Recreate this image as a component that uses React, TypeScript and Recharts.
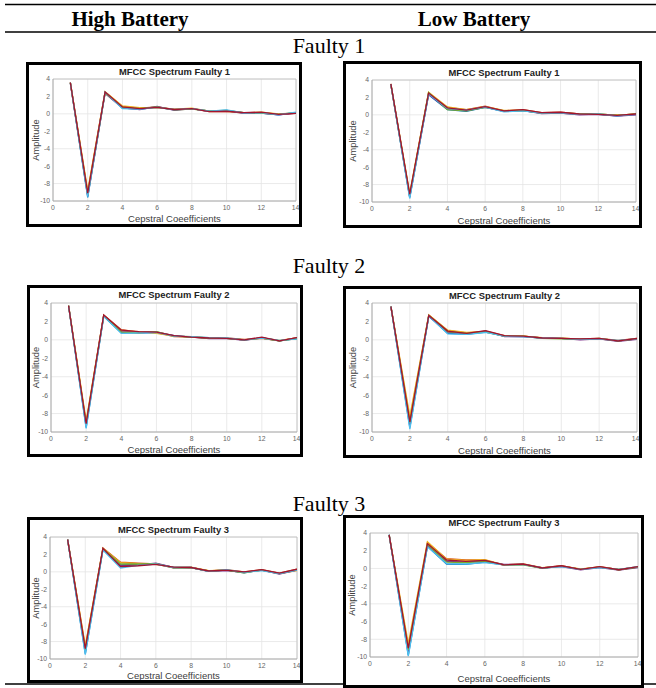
import React from 'react';
import { LineChart, Line, XAxis, YAxis, CartesianGrid, ReferenceLine, Label } from 'recharts';

const COEFFS = [1, 2, 3, 4, 5, 6, 7, 8, 9, 10, 11, 12, 13, 14];
const X_TICKS = [0, 2, 4, 6, 8, 10, 12, 14];
const Y_TICKS = [-10, -8, -6, -4, -2, 0, 2, 4];
const SERIES_COLORS = ['#0072BD', '#D95319', '#EDB120', '#7E2F8E', '#77AC30', '#4DBEEE', '#A2142F'];
const COLUMN_HEADERS = ['High Battery', 'Low Battery'];
const ROW_LABELS = ['Faulty 1', 'Faulty 2', 'Faulty 3'];
const PLOT_TITLES = ['MFCC Spectrum Faulty 1', 'MFCC Spectrum Faulty 2', 'MFCC Spectrum Faulty 3'];
const X_LABEL = 'Cepstral Coeefficients';
const Y_LABEL = 'Amplitude';

const highFaulty1 = [
  [3.55, -9.6, 2.45, 0.65, 0.55, 0.75, 0.45, 0.6, 0.3, 0.4, 0.1, 0.1, -0.1, 0.15],
  [3.6, -9.0, 2.5, 0.85, 0.65, 0.8, 0.5, 0.6, 0.25, 0.3, 0.15, 0.15, -0.05, 0.05],
  [3.6, -8.8, 2.55, 0.9, 0.7, 0.7, 0.55, 0.65, 0.3, 0.3, 0.1, 0.2, 0.0, 0.1],
  [3.5, -9.4, 2.35, 0.7, 0.5, 0.85, 0.4, 0.6, 0.3, 0.35, 0.05, 0.1, -0.1, 0.1],
  [3.55, -9.3, 2.4, 0.75, 0.6, 0.8, 0.45, 0.55, 0.35, 0.4, 0.15, 0.1, -0.05, 0.15],
  [3.6, -9.5, 2.5, 0.6, 0.55, 0.75, 0.5, 0.6, 0.3, 0.45, 0.1, 0.15, -0.1, 0.2],
  [3.6, -9.1, 2.5, 0.8, 0.6, 0.75, 0.5, 0.6, 0.25, 0.3, 0.15, 0.2, -0.05, 0.05],
];
const lowFaulty1 = [
  [3.5, -9.5, 2.3, 0.6, 0.4, 0.85, 0.4, 0.5, 0.2, 0.25, 0.05, 0.05, -0.1, 0.05],
  [3.5, -9.2, 2.5, 0.85, 0.6, 1.0, 0.45, 0.6, 0.25, 0.3, 0.1, 0.1, -0.05, 0.1],
  [3.55, -9.0, 2.6, 0.9, 0.6, 0.95, 0.5, 0.55, 0.2, 0.2, 0.05, 0.05, 0.0, 0.05],
  [3.5, -9.4, 2.35, 0.7, 0.5, 0.9, 0.4, 0.5, 0.15, 0.2, 0.0, 0.05, -0.15, 0.0],
  [3.5, -9.3, 2.55, 0.6, 0.45, 0.85, 0.45, 0.5, 0.2, 0.25, 0.1, 0.1, -0.05, 0.1],
  [3.5, -9.6, 2.4, 0.75, 0.55, 0.9, 0.35, 0.45, 0.2, 0.2, 0.05, 0.1, -0.1, 0.05],
  [3.55, -9.1, 2.5, 0.8, 0.55, 0.95, 0.45, 0.6, 0.25, 0.3, 0.1, 0.05, -0.05, 0.1],
];
const highFaulty2 = [
  [3.7, -9.5, 2.55, 0.75, 0.8, 0.75, 0.45, 0.3, 0.25, 0.15, 0.0, 0.2, -0.1, 0.15],
  [3.7, -9.0, 2.7, 1.1, 0.85, 0.8, 0.35, 0.3, 0.2, 0.2, 0.05, 0.15, -0.1, 0.25],
  [3.75, -8.8, 2.65, 1.0, 0.9, 0.7, 0.4, 0.35, 0.2, 0.15, 0.0, 0.2, -0.05, 0.2],
  [3.7, -9.3, 2.6, 0.9, 0.8, 0.85, 0.45, 0.3, 0.15, 0.15, -0.05, 0.25, -0.1, 0.2],
  [3.7, -9.2, 2.6, 0.85, 0.75, 0.9, 0.4, 0.3, 0.2, 0.15, 0.0, 0.2, -0.1, 0.15],
  [3.7, -9.6, 2.55, 0.7, 0.75, 0.8, 0.4, 0.35, 0.25, 0.2, 0.0, 0.2, -0.05, 0.1],
  [3.7, -9.1, 2.7, 1.05, 0.9, 0.85, 0.45, 0.3, 0.2, 0.15, 0.0, 0.3, -0.1, 0.25],
];
const lowFaulty2 = [
  [3.6, -9.5, 2.55, 0.7, 0.6, 0.85, 0.4, 0.35, 0.2, 0.15, 0.05, 0.1, -0.1, 0.1],
  [3.6, -8.6, 2.7, 1.0, 0.75, 0.95, 0.45, 0.4, 0.2, 0.15, 0.1, 0.15, -0.05, 0.15],
  [3.6, -8.3, 2.7, 1.05, 0.8, 0.9, 0.4, 0.4, 0.25, 0.2, 0.05, 0.1, -0.1, 0.1],
  [3.6, -9.2, 2.6, 0.85, 0.65, 0.95, 0.35, 0.35, 0.2, 0.15, 0.0, 0.1, -0.15, 0.05],
  [3.6, -9.0, 2.65, 0.9, 0.7, 0.85, 0.4, 0.4, 0.15, 0.1, 0.05, 0.15, -0.1, 0.1],
  [3.6, -9.7, 2.6, 0.65, 0.6, 0.8, 0.4, 0.35, 0.2, 0.15, 0.05, 0.1, -0.05, 0.1],
  [3.6, -8.9, 2.65, 0.95, 0.7, 1.0, 0.45, 0.4, 0.2, 0.15, 0.1, 0.15, -0.1, 0.15],
];
const highFaulty3 = [
  [3.7, -9.4, 2.55, 0.8, 0.85, 0.95, 0.5, 0.5, 0.05, 0.2, -0.1, 0.2, -0.2, 0.2],
  [3.7, -8.6, 2.75, 1.1, 1.0, 0.9, 0.45, 0.5, 0.1, 0.25, 0.0, 0.25, -0.15, 0.3],
  [3.7, -8.5, 2.7, 1.05, 0.95, 0.85, 0.55, 0.55, 0.15, 0.2, -0.05, 0.2, -0.2, 0.15],
  [3.7, -9.1, 2.6, 0.7, 0.8, 1.0, 0.5, 0.5, 0.05, 0.15, -0.05, 0.2, -0.25, 0.2],
  [3.7, -9.0, 2.65, 0.9, 0.9, 0.95, 0.45, 0.45, 0.1, 0.2, -0.1, 0.2, -0.2, 0.25],
  [3.7, -9.5, 2.5, 0.45, 0.75, 0.9, 0.5, 0.5, 0.05, 0.25, -0.05, 0.15, -0.2, 0.2],
  [3.7, -8.8, 2.7, 0.6, 0.7, 0.85, 0.55, 0.5, 0.1, 0.2, 0.0, 0.25, -0.15, 0.3],
];
const lowFaulty3 = [
  [3.8, -9.8, 2.5, 0.5, 0.45, 0.7, 0.4, 0.45, 0.05, 0.25, -0.1, 0.15, -0.1, 0.15],
  [3.8, -8.9, 2.9, 1.1, 0.95, 0.95, 0.35, 0.45, 0.05, 0.3, -0.1, 0.2, -0.15, 0.2],
  [3.8, -8.5, 3.0, 1.05, 0.9, 1.0, 0.4, 0.5, 0.1, 0.25, -0.05, 0.15, -0.1, 0.15],
  [3.8, -9.4, 2.6, 0.8, 0.7, 0.85, 0.45, 0.45, 0.05, 0.2, -0.15, 0.1, -0.2, 0.1],
  [3.8, -9.2, 2.7, 0.7, 0.65, 0.8, 0.4, 0.4, 0.0, 0.25, -0.1, 0.15, -0.15, 0.15],
  [3.8, -9.9, 2.45, 0.55, 0.5, 0.65, 0.4, 0.45, 0.05, 0.2, -0.1, 0.1, -0.1, 0.2],
  [3.8, -9.0, 2.8, 0.95, 0.8, 0.9, 0.4, 0.5, 0.05, 0.3, -0.1, 0.2, -0.15, 0.2],
];

type Geo = {
  l: number; t: number; w: number; h: number;
  px0: number; px1: number; py0: number; py1: number;
  titleY: number; xLabelY: number; yLabelX: number;
};

const PANELS: { geo: Geo; title: string; series: number[][] }[] = [
  { geo: { l: 26, t: 62, w: 276, h: 165, px0: 53, px1: 296, py0: 79, py1: 201, titleY: 71, xLabelY: 218.5, yLabelX: 36 }, title: PLOT_TITLES[0], series: highFaulty1 },
  { geo: { l: 343, t: 61, w: 299, h: 167, px0: 372, px1: 636, py0: 80, py1: 202, titleY: 72, xLabelY: 220, yLabelX: 353 }, title: PLOT_TITLES[0], series: lowFaulty1 },
  { geo: { l: 27, t: 285, w: 276, h: 172, px0: 51, px1: 297, py0: 303, py1: 432, titleY: 294, xLabelY: 449, yLabelX: 36 }, title: PLOT_TITLES[1], series: highFaulty2 },
  { geo: { l: 343, t: 286, w: 299, h: 172, px0: 372, px1: 637, py0: 303, py1: 432, titleY: 295, xLabelY: 450, yLabelX: 353 }, title: PLOT_TITLES[1], series: lowFaulty2 },
  { geo: { l: 27, t: 517, w: 276, h: 166, px0: 50, px1: 297, py0: 537, py1: 659, titleY: 529, xLabelY: 675, yLabelX: 36 }, title: PLOT_TITLES[2], series: highFaulty3 },
  { geo: { l: 343, t: 515, w: 301, h: 173, px0: 370, px1: 638, py0: 533, py1: 657, titleY: 522, xLabelY: 678.5, yLabelX: 352 }, title: PLOT_TITLES[2], series: lowFaulty3 },
];

const SANS = "'Liberation Sans', Arial, sans-serif";
const SERIF = "'Liberation Serif', 'Times New Roman', serif";

function Panel({ geo, title, series }: { geo: Geo; title: string; series: number[][] }) {
  const B = 3;
  const cw = geo.w - 2 * B;
  const ch = geo.h - 2 * B;
  const ix = geo.l + B;
  const iy = geo.t + B;
  const yw = geo.px0 - ix;
  const xh = iy + ch - geo.py1;
  const top = geo.py0 - iy;
  const right = ix + cw - geo.px1;
  const data = COEFFS.map((c, i) => {
    const row: Record<string, number> = { c };
    series.forEach((s, k) => {
      row['s' + k] = s[i];
    });
    return row;
  });
  const cx = (geo.px0 + geo.px1) / 2 - ix;
  const cy = (geo.py0 + geo.py1) / 2 - iy;
  const ylx = geo.yLabelX - ix;
  return (
    <div
      style={{
        position: 'absolute', left: geo.l, top: geo.t, width: geo.w, height: geo.h,
        border: '3px solid #000', boxSizing: 'border-box', background: '#fff',
      }}
    >
      <LineChart width={cw} height={ch} data={data} margin={{ top, right, bottom: 0, left: 0 }}>
        <CartesianGrid stroke="#e4e4e4" strokeWidth={0.8} />
        <XAxis
          dataKey="c" type="number" domain={[0, 14]} ticks={X_TICKS} height={xh}
          tickLine={false} tickSize={3} tickMargin={1}
          axisLine={{ stroke: '#a8a8a8' }}
          tick={{ fontSize: 6.8, fill: '#666', fontFamily: SANS }}
          allowDataOverflow
        >
          <Label
            content={() => (
              <text x={cx} y={geo.xLabelY - iy} textAnchor="middle" dominantBaseline="central"
                fontSize={9.5} fill="#404040" fontFamily={SANS}>{X_LABEL}</text>
            )}
          />
        </XAxis>
        <YAxis
          type="number" domain={[-10, 4]} ticks={Y_TICKS} width={yw}
          tickLine={false} tickSize={2} tickMargin={1}
          axisLine={{ stroke: '#a8a8a8' }}
          tick={{ fontSize: 6.8, fill: '#666', fontFamily: SANS }}
          allowDataOverflow
        >
          <Label
            content={() => (
              <text x={ylx} y={cy} textAnchor="middle" dominantBaseline="central"
                transform={`rotate(-90 ${ylx} ${cy})`}
                fontSize={9.3} fill="#404040" fontFamily={SANS}>{Y_LABEL}</text>
            )}
          />
          <Label
            content={() => (
              <text x={cx} y={geo.titleY - iy} textAnchor="middle" dominantBaseline="central"
                fontSize={9.4} fontWeight="bold" fill="#222" fontFamily={SANS}>{title}</text>
            )}
          />
        </YAxis>
        <ReferenceLine y={4} stroke="#bdbdbd" strokeWidth={0.8} />
        <ReferenceLine x={14} stroke="#bdbdbd" strokeWidth={0.8} />
        {series.map((_, k) => (
          <Line
            key={k} dataKey={'s' + k} type="linear" stroke={SERIES_COLORS[k % SERIES_COLORS.length]}
            strokeWidth={1.3} dot={false} activeDot={false} isAnimationActive={false}
          />
        ))}
      </LineChart>
    </div>
  );
}

const HEADER_X = [130, 474];
const ROW_LABEL_Y = [53, 273, 511];

export default function App() {
  return (
    <div style={{ position: 'absolute', left: 0, top: 0, width: 656, height: 688, background: '#fff', overflow: 'hidden' }}>
      <svg width={656} height={688} style={{ position: 'absolute', left: 0, top: 0 }}>
        <line x1={5} x2={656} y1={4.5} y2={4.5} stroke="#000" strokeWidth={1.6} />
        <line x1={5} x2={656} y1={32} y2={32} stroke="#000" strokeWidth={1.6} />
        <line x1={5} x2={656} y1={684} y2={684} stroke="#000" strokeWidth={1.6} />
        {COLUMN_HEADERS.map((h, i) => (
          <text key={h} x={HEADER_X[i]} y={26} textAnchor="middle" fontSize={21} fontWeight="bold" fontFamily={SERIF} fill="#000">{h}</text>
        ))}
        {ROW_LABELS.map((r, i) => (
          <text key={r} x={329} y={ROW_LABEL_Y[i]} textAnchor="middle" fontSize={22} fontFamily={SERIF} fill="#000">{r}</text>
        ))}
      </svg>
      {PANELS.map((p, i) => (
        <Panel key={i} geo={p.geo} title={p.title} series={p.series} />
      ))}
    </div>
  );
}
